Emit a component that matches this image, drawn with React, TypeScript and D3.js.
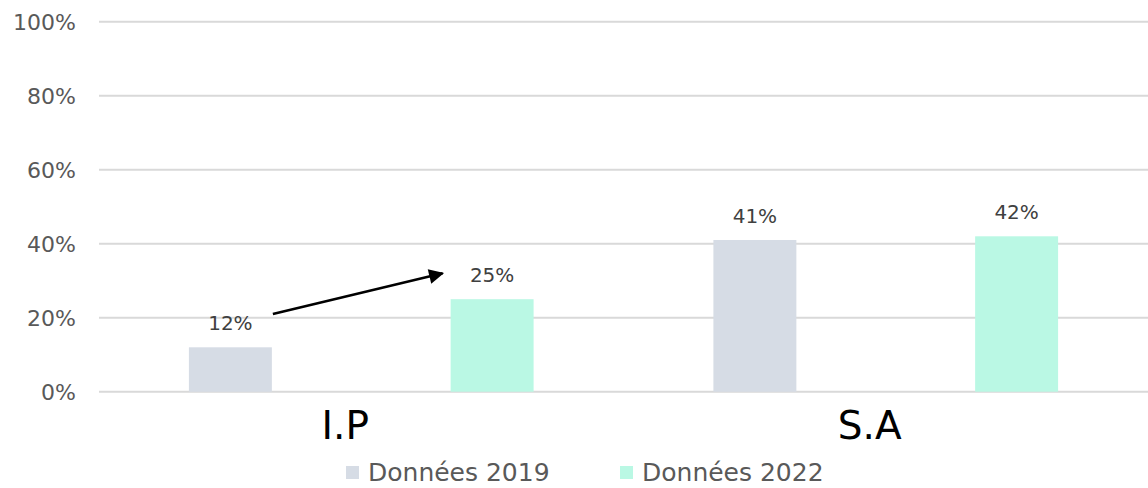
import React from "react";
import * as d3 from "d3";

const categories = ["I.P", "S.A"];
const seriesNames = ["Données 2019", "Données 2022"];
const values2019 = [0.12, 0.41];
const values2022 = [0.25, 0.42];
const yTicks = [0, 0.2, 0.4, 0.6, 0.8, 1];
const colors = ["#D6DCE5", "#BAF8E4"];

const W = 1148;
const H = 488;
const FONT = "'DejaVu Sans', sans-serif";

export default function App() {
  const x0 = d3.scaleBand<string>().domain(categories).range([99, 1148]).paddingInner(0).paddingOuter(0);
  const x1 = d3
    .scaleBand<string>()
    .domain(seriesNames)
    .range([0, x0.bandwidth()])
    .paddingInner(0.683)
    .paddingOuter(0.3435);
  const y = d3.scaleLinear().domain([0, 1]).range([391.7, 21.7]);
  const series = [values2019, values2022];
  const fmt = d3.format(".0%");

  // arrow annotation: from right of the I.P 2019 label to the I.P 2022 label
  const ax0 = (x0("I.P") ?? 0) + (x1(seriesNames[0]) ?? 0) + x1.bandwidth() + 1;
  const ay0 = y(0.21);
  const ax1 = (x0("I.P") ?? 0) + (x1(seriesNames[1]) ?? 0) - 8;
  const ay1 = y(0.32);

  return (
    <svg width={W} height={H} style={{ position: "absolute", left: 0, top: 0, background: "#fff" }} fontFamily={FONT}>
      <defs>
        <marker id="ah" viewBox="0 0 10 10" refX="9" refY="5" markerWidth="7" markerHeight="6" orient="auto" markerUnits="strokeWidth">
          <path d="M0,0 L10,5 L0,10 z" fill="#000" />
        </marker>
      </defs>
      {yTicks.map((t) => (
        <g key={t}>
          <line x1={99} x2={1148} y1={y(t)} y2={y(t)} stroke="#D9D9D9" strokeWidth={2} />
          <text x={76} y={y(t)} dy="0.36em" textAnchor="end" fontSize={22} fill="#595959">
            {fmt(t)}
          </text>
        </g>
      ))}
      {categories.map((c, ci) => (
        <g key={c}>
          {seriesNames.map((s, si) => {
            const v = series[si][ci];
            const bx = (x0(c) ?? 0) + (x1(s) ?? 0);
            return (
              <g key={s}>
                <rect x={bx} y={y(v)} width={x1.bandwidth()} height={y(0) - y(v)} fill={colors[si]} />
                <text x={bx + x1.bandwidth() / 2} y={y(v) - 17} textAnchor="middle" fontSize={20} fill="#404040">
                  {fmt(v)}
                </text>
              </g>
            );
          })}
          <text x={(x0(c) ?? 0) + x0.bandwidth() / 2 - 16} y={439} textAnchor="middle" fontSize={39} fill="#000">
            {c}
          </text>
        </g>
      ))}
      <line x1={ax0} y1={ay0} x2={ax1} y2={ay1} stroke="#000" strokeWidth={2.5} markerEnd="url(#ah)" />
      {seriesNames.map((s, i) => {
        const lx = [346, 620][i];
        return (
          <g key={s}>
            <rect x={lx} y={466} width={13} height={13} fill={colors[i]} />
            <text x={lx + 22} y={481} fontSize={25} fill="#595959">
              {s}
            </text>
          </g>
        );
      })}
    </svg>
  );
}
